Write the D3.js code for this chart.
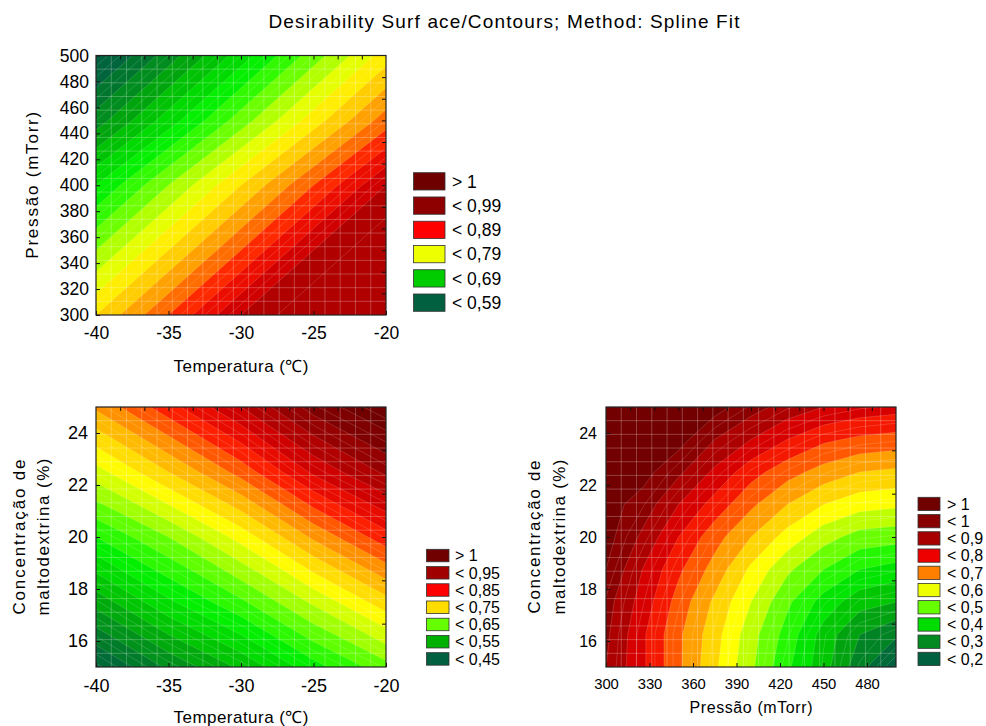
<!DOCTYPE html>
<html>
<head>
<meta charset="utf-8">
<script src="https://cdn.jsdelivr.net/npm/d3@7"></script>
<style>
body{margin:0;background:#fff}
text{font-family:"Liberation Sans",Arial,sans-serif;fill:#000}
</style>
</head>
<body>
<svg id="chart" width="986" height="726"></svg>
<script>
const title = "Desirability  Surf ace/Contours; Method: Spline Fit"

// panel 1 : Temperatura x Pressão
const tempGrid = [-40, -35, -30, -25, -20]
const pressGrid1 = [300, 350, 400, 450, 500]
// rows = pressure (ascending), cols = temperature
const desTempPress = [
  [0.82, 0.88, 0.94, 0.96, 0.96],
  [0.76, 0.82, 0.88, 0.94, 0.96],
  [0.70, 0.76, 0.82, 0.88, 0.94],
  [0.63, 0.69, 0.75, 0.81, 0.87],
  [0.57, 0.63, 0.69, 0.75, 0.81]
]
const tempTicks = [-40, -35, -30, -25, -20]
const pressTicks1 = [300, 320, 340, 360, 380, 400, 420, 440, 460, 480, 500]
const legend1Labels = ["> 1", "< 0,99", "< 0,89", "< 0,79", "< 0,69", "< 0,59"]
const legend1Colors = ["#6e0000", "#8e0000", "#ff0000", "#eeff00", "#00cc00", "#006040"]

// panel 2 : Temperatura x Concentração
const concGrid = [15, 17.5, 20, 22.5, 25]
// rows = concentração (ascending), cols = temperature
const desTempConc = [
  [0.42, 0.48, 0.53, 0.59, 0.64],
  [0.51, 0.57, 0.62, 0.68, 0.74],
  [0.60, 0.65, 0.71, 0.78, 0.84],
  [0.69, 0.75, 0.81, 0.88, 0.93],
  [0.78, 0.84, 0.90, 0.96, 1.00]
]
const concTicks = [16, 18, 20, 22, 24]
const legend2Labels = ["> 1", "< 0,95", "< 0,85", "< 0,75", "< 0,65", "< 0,55", "< 0,45"]
const legend2Colors = ["#700000", "#a00000", "#ff0000", "#ffdd00", "#66ff00", "#00b000", "#006040"]

// panel 3 : Pressão x Concentração
const pressGrid3 = [300, 325, 350, 375, 400, 425, 450, 475, 500]
const concGrid3 = [15, 16.25, 17.5, 18.75, 20, 21.25, 22.5, 23.75, 25]
// rows = concentração (ascending), cols = pressure
const desPressConc = [
  [0.90, 0.81, 0.71, 0.61, 0.51, 0.41, 0.32, 0.22, 0.12],
  [0.91, 0.81, 0.71, 0.62, 0.52, 0.43, 0.33, 0.25, 0.21],
  [0.92, 0.83, 0.73, 0.64, 0.55, 0.46, 0.38, 0.32, 0.30],
  [0.95, 0.85, 0.76, 0.68, 0.59, 0.51, 0.45, 0.40, 0.38],
  [0.97, 0.89, 0.80, 0.72, 0.65, 0.58, 0.52, 0.48, 0.47],
  [0.97, 0.93, 0.85, 0.78, 0.71, 0.65, 0.60, 0.57, 0.56],
  [0.97, 0.97, 0.91, 0.84, 0.77, 0.72, 0.68, 0.65, 0.64],
  [0.97, 0.97, 0.97, 0.90, 0.85, 0.80, 0.76, 0.74, 0.73],
  [0.97, 0.97, 0.97, 0.97, 0.92, 0.88, 0.85, 0.83, 0.82]
]
const pressTicks3 = [300, 330, 360, 390, 420, 450, 480]
const legend3Labels = ["> 1", "< 1", "< 0,9", "< 0,8", "< 0,7", "< 0,6", "< 0,5", "< 0,4", "< 0,3", "< 0,2"]
const legend3Colors = ["#700000", "#880000", "#a80000", "#ee0000", "#ff8000", "#eeff00", "#66ff00", "#00dd00", "#008a20", "#006040"]

// colour ramp used by the surfaces (dark green -> yellow -> dark red)
const palette = ["#006040","#007a2a","#00a010","#00cc00","#00ee00","#44ff00","#b0ff00",
                 "#ffff00","#ffcc00","#ff8800","#ff2200","#dd0000","#aa0000","#800000","#6a0000"]

const svg = d3.select("#chart")

svg.append("text")
  .attr("x", 504).attr("y", 28)
  .attr("text-anchor", "middle")
  .style("font-size", "19px")
  .attr("textLength", 471).attr("lengthAdjust", "spacing")
  .text(title)

function drawPanel(o){
  const g = svg.append("g")
  const x = d3.scaleLinear().domain(o.xDomain).range([o.left, o.right])
  const y = d3.scaleLinear().domain(o.yDomain).range([o.bottom, o.top])
  const n = o.xs.length, m = o.ys.length
  const values = o.grid.flat()

  // grid coords from d3.contours -> pixels
  const gx = d3.scaleLinear().domain([0.5, n - 0.5]).range([x(o.xs[0]), x(o.xs[n - 1])])
  const gy = d3.scaleLinear().domain([0.5, m - 0.5]).range([y(o.ys[0]), y(o.ys[m - 1])])
  const path = d3.geoPath(d3.geoTransform({
    point(px, py){ this.stream.point(gx(px), gy(py)) }
  }))

  const color = d3.scaleLinear()
    .domain(palette.map((c, i) => o.lo + i * (o.hi - o.lo) / (palette.length - 1)))
    .range(palette)
    .clamp(true)

  const start = Math.floor(d3.min(values) / o.step) * o.step
  const bands = d3.contours().size([n, m]).thresholds(d3.range(start, 1.0001, o.step))(values)
  const lines = d3.contours().size([n, m]).thresholds(d3.range(start, 1.0001, o.step / 2))(values)

  svg.append("clipPath").attr("id", "clip" + o.id)
    .append("rect")
    .attr("x", o.left).attr("y", o.top)
    .attr("width", o.right - o.left).attr("height", o.bottom - o.top)

  const plot = g.append("g").attr("clip-path", `url(#clip${o.id})`)

  plot.selectAll("path.band")
    .data(bands)
    .join("path")
    .attr("class", "band")
    .attr("d", path)
    .attr("fill", d => color(d.value + o.step / 2))

  plot.selectAll("path.iso")
    .data(lines)
    .join("path")
    .attr("class", "iso")
    .attr("d", path)
    .attr("fill", "none")
    .attr("stroke", "#fff")
    .attr("stroke-opacity", 0.2)
    .attr("stroke-width", 0.8)

  // mesh lines
  const mesh = 19
  const mx = d3.scaleLinear().domain([0, mesh]).range([o.left, o.right])
  const my = d3.scaleLinear().domain([0, mesh]).range([o.top, o.bottom])
  plot.selectAll("line.mv")
    .data(d3.range(1, mesh))
    .join("line")
    .attr("x1", d => mx(d)).attr("x2", d => mx(d))
    .attr("y1", o.top).attr("y2", o.bottom)
    .attr("stroke", "#fff").attr("stroke-opacity", 0.25)
  plot.selectAll("line.mh")
    .data(d3.range(1, mesh))
    .join("line")
    .attr("y1", d => my(d)).attr("y2", d => my(d))
    .attr("x1", o.left).attr("x2", o.right)
    .attr("stroke", "#fff").attr("stroke-opacity", 0.25)

  // axes
  const xAxis = g.append("g")
    .attr("transform", `translate(0,${o.bottom})`)
    .call(d3.axisBottom(x).tickValues(o.xTicks).tickSize(-4).tickPadding(o.xPad).tickFormat(d => String(d)))
  const yAxis = g.append("g")
    .attr("transform", `translate(${o.left},0)`)
    .call(d3.axisLeft(y).tickValues(o.yTicks).tickSize(-4).tickPadding(o.yPad).tickFormat(d => String(d)))
  xAxis.selectAll("text").style("font-size", o.xFont + "px")
  yAxis.selectAll("text").style("font-size", o.yFont + "px")

  const tx = d3.scaleLinear().domain([0, 12]).range([o.left, o.right])
  const ty = d3.scaleLinear().domain([0, o.rightDiv]).range([o.bottom, o.top])
  const topAxis = g.append("g")
    .attr("transform", `translate(0,${o.top})`)
    .call(d3.axisTop(tx).tickValues(d3.range(1, 12)).tickSize(-4).tickFormat(""))
  const rightAxis = g.append("g")
    .attr("transform", `translate(${o.right},0)`)
    .call(d3.axisRight(ty).tickValues(d3.range(1, o.rightDiv)).tickSize(-4).tickFormat(""))

  for (const a of [xAxis, yAxis, topAxis, rightAxis]) {
    a.attr("font-size", null).attr("font-family", null)
    a.select(".domain").remove()
    a.selectAll("line").attr("stroke", "#111")
  }

  g.append("rect")
    .attr("x", o.left).attr("y", o.top)
    .attr("width", o.right - o.left).attr("height", o.bottom - o.top)
    .attr("fill", "none").attr("stroke", "#222").attr("stroke-width", 1.2)

  // axis titles
  g.append("text")
    .attr("x", (o.left + o.right) / 2).attr("y", o.xTitleY)
    .attr("text-anchor", "middle")
    .style("font-size", o.xTitleFont + "px")
    .attr("textLength", o.xTitleLen).attr("lengthAdjust", "spacing")
    .text(o.xTitle)
  o.yTitle.forEach((t, i) => {
    g.append("text")
      .attr("transform", `translate(${o.yTitleX[i]},${(o.top + o.bottom) / 2}) rotate(-90)`)
      .attr("text-anchor", "middle")
      .style("font-size", o.yTitleFont + "px")
      .attr("textLength", o.yTitleLen[i]).attr("lengthAdjust", "spacing")
      .text(t)
  })

  // legend
  const lg = g.append("g")
  const items = lg.selectAll("g")
    .data(o.legendLabels)
    .join("g")
    .attr("transform", (d, i) => `translate(${o.legX},${o.legY + i * o.legStep})`)
  items.append("rect")
    .attr("width", o.legW).attr("height", o.legH)
    .attr("fill", (d, i) => o.legendColors[i])
    .attr("stroke", "#333").attr("stroke-width", 0.8)
  items.append("text")
    .attr("x", o.legW + o.legGap).attr("y", o.legH / 2)
    .attr("dy", "0.36em")
    .style("font-size", o.legFont + "px")
    .text(d => d)
}

drawPanel({
  id: 1, left: 96, right: 386, top: 55.5, bottom: 315,
  xDomain: [-40, -20], yDomain: [300, 500],
  xs: tempGrid, ys: pressGrid1, grid: desTempPress,
  lo: 0.585, hi: 1.015, step: 0.02,
  xTicks: tempTicks, yTicks: pressTicks1, xPad: 12, yPad: 7, xFont: 17.5, yFont: 17.5,
  rightDiv: 12,
  xTitle: "Temperatura (℃)", xTitleY: 372, xTitleFont: 17, xTitleLen: 135,
  yTitle: ["Pressão (mTorr)"], yTitleX: [38], yTitleFont: 17, yTitleLen: [147],
  legendLabels: legend1Labels, legendColors: legend1Colors,
  legX: 413.5, legY: 172.7, legStep: 24.26, legW: 31.5, legH: 17.3, legGap: 7, legFont: 17.5
})

drawPanel({
  id: 2, left: 96, right: 386, top: 407, bottom: 667,
  xDomain: [-40, -20], yDomain: [15, 25],
  xs: tempGrid, ys: concGrid, grid: desTempConc,
  lo: 0.42, hi: 1.0, step: 0.025,
  xTicks: tempTicks, yTicks: concTicks, xPad: 12, yPad: 8, xFont: 18, yFont: 18,
  rightDiv: 6,
  xTitle: "Temperatura (℃)", xTitleY: 723, xTitleFont: 17, xTitleLen: 135,
  yTitle: ["Concentração de", "maltodextrina (%)"], yTitleX: [25, 49], yTitleFont: 17, yTitleLen: [155, 157],
  legendLabels: legend2Labels, legendColors: legend2Colors,
  legX: 426.5, legY: 549.3, legStep: 17.23, legW: 22.5, legH: 12.5, legGap: 6, legFont: 16
})

drawPanel({
  id: 3, left: 606, right: 896, top: 407, bottom: 667,
  xDomain: [300, 500], yDomain: [15, 25],
  xs: pressGrid3, ys: concGrid3, grid: desPressConc,
  lo: 0.15, hi: 1.0, step: 0.05,
  xTicks: pressTicks3, yTicks: concTicks, xPad: 11.5, yPad: 9, xFont: 14.8, yFont: 16,
  rightDiv: 6,
  xTitle: "Pressão (mTorr)", xTitleY: 713, xTitleFont: 16, xTitleLen: 123,
  yTitle: ["Concentração de", "maltodextrina (%)"], yTitleX: [540, 565], yTitleFont: 17, yTitleLen: [153, 155],
  legendLabels: legend3Labels, legendColors: legend3Colors,
  legX: 918, legY: 497.3, legStep: 17.22, legW: 22, legH: 13.3, legGap: 7, legFont: 16
})
</script>
</body>
</html>
